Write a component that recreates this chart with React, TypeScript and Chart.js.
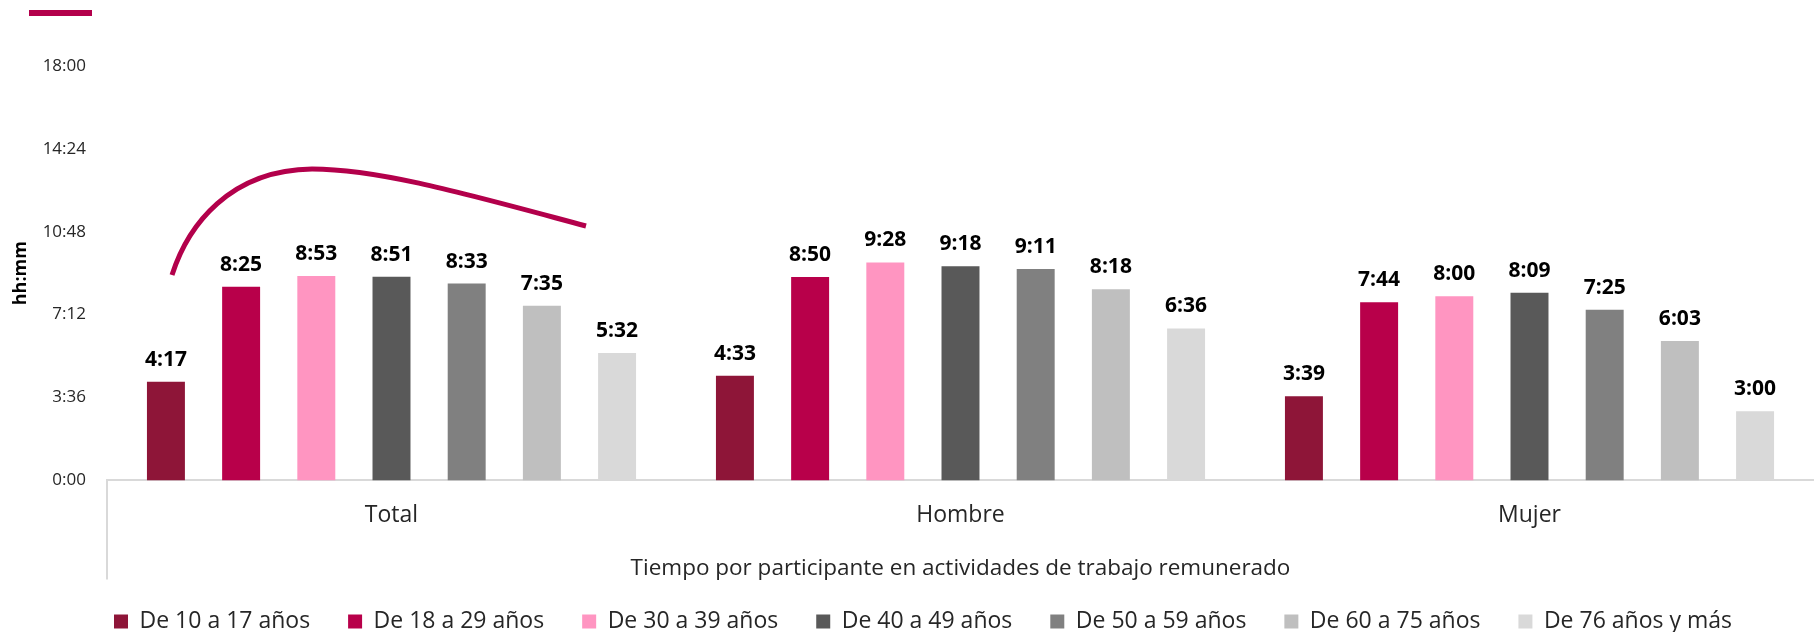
import React, { useEffect, useRef } from "react";
import { Chart, registerables } from "chart.js";

Chart.register(...registerables);

const categories = ["Total", "Hombre", "Mujer"];
const seriesNames = [
  "De 10 a 17 años",
  "De 18 a 29 años",
  "De 30 a 39 años",
  "De 40 a 49 años",
  "De 50 a 59 años",
  "De 60 a 75 años",
  "De 76 años y más",
];
// values in minutes (hh:mm)
const age10to17 = [257, 273, 219];
const age18to29 = [505, 530, 464];
const age30to39 = [533, 568, 480];
const age40to49 = [531, 558, 489];
const age50to59 = [513, 551, 445];
const age60to75 = [455, 498, 363];
const age76plus = [332, 396, 180];
const seriesColors = ["#8E1538", "#B8004A", "#FF95C1", "#595959", "#808080", "#BFBFBF", "#D9D9D9"];
const yTickMax = 1080;
const yTickStep = 216;
const yTitle = "hh:mm";
const xTitle = "Tiempo por participante en actividades de trabajo remunerado";

const FONT = "'Open Sans', 'Noto Sans', sans-serif";

const fmt = (m: number) => `${Math.floor(m / 60)}:${String(Math.round(m % 60)).padStart(2, "0")}`;

const dataLabels = {
  id: "dataLabels",
  afterDatasetsDraw(chart: any) {
    const ctx = chart.ctx;
    ctx.save();
    ctx.font = `bold 21px ${FONT}`;
    ctx.fillStyle = "#000000";
    ctx.textAlign = "center";
    ctx.textBaseline = "alphabetic";
    chart.data.datasets.forEach((ds: any, i: number) => {
      const meta = chart.getDatasetMeta(i);
      meta.data.forEach((el: any, j: number) => {
        ctx.fillText(fmt(ds.data[j]), el.x, el.y - 16);
      });
    });
    ctx.restore();
  },
};

const legendShift = {
  id: "legendShift",
  afterLayout(chart: any) {
    if (chart.legend) {
      chart.legend.left += 16;
      chart.legend.right += 16;
    }
  },
};

const decorations = {
  id: "decorations",
  afterDraw(chart: any) {
    const ctx = chart.ctx;
    const xs = chart.scales.x;
    const area = chart.chartArea;
    ctx.save();
    // category divider line at left of multi-level axis
    ctx.strokeStyle = "#D9D9D9";
    ctx.lineWidth = 2;
    ctx.beginPath();
    ctx.moveTo(xs.left, area.bottom);
    ctx.lineTo(xs.left, area.bottom + 99);
    ctx.stroke();
    // decorative crimson strokes from the source document
    ctx.strokeStyle = "#B3004B";
    ctx.lineCap = "butt";
    ctx.lineWidth = 6;
    ctx.beginPath();
    ctx.moveTo(29, 13);
    ctx.lineTo(92, 13);
    ctx.stroke();
    ctx.lineWidth = 5;
    ctx.beginPath();
    ctx.moveTo(172, 275);
    ctx.bezierCurveTo(188, 225, 230, 170, 312, 169);
    ctx.bezierCurveTo(380, 169, 470, 195, 586, 226);
    ctx.stroke();
    ctx.restore();
  },
};

export default function App() {
  const ref = useRef<HTMLCanvasElement | null>(null);
  useEffect(() => {
    if (!ref.current) return;
    const series = [age10to17, age18to29, age30to39, age40to49, age50to59, age60to75, age76plus];
    const chart = new Chart(ref.current, {
      type: "bar",
      data: {
        labels: categories,
        datasets: series.map((d, i) => ({
          label: seriesNames[i],
          data: d,
          backgroundColor: seriesColors[i],
          borderWidth: 0,
          categoryPercentage: 0.925,
          barPercentage: 0.505,
        })),
      },
      options: {
        animation: false,
        responsive: false,
        maintainAspectRatio: false,
        layout: { padding: { top: 66, left: 0, right: 0, bottom: 0 } },
        plugins: {
          tooltip: { enabled: false },
          legend: {
            position: "bottom",
            labels: {
              boxWidth: 14,
              boxHeight: 14,
              padding: 38,
              color: "#262626",
              font: { family: FONT, size: 23 },
            },
          },
        },
        scales: {
          x: {
            grid: { display: false, drawTicks: false },
            border: { display: true, color: "#D9D9D9", width: 2 },
            ticks: { padding: 21, color: "#262626", font: { family: FONT, size: 23 } },
            title: {
              display: true,
              text: xTitle,
              color: "#262626",
              font: { family: FONT, size: 22.5 },
              padding: { top: 5, bottom: -10 },
            },
          },
          y: {
            min: 0,
            max: yTickMax,
            grid: { display: false, drawTicks: false },
            border: { display: false },
            afterFit: (s: any) => {
              s.width = 107;
            },
            ticks: {
              stepSize: yTickStep,
              padding: 21,
              color: "#262626",
              font: { family: FONT, size: 17 },
              callback: (v: any) => fmt(Number(v)),
            },
            title: {
              display: true,
              text: yTitle,
              color: "#000000",
              font: { family: FONT, size: 18, weight: "bold" },
              padding: { top: 10, bottom: 0 },
            },
          },
        },
      },
      plugins: [dataLabels, legendShift, decorations],
    });
    return () => chart.destroy();
  }, []);
  return (
    <div style={{ position: "fixed", left: 0, top: 0, width: 1814, height: 632, overflow: "hidden", background: "#fff" }}>
      <canvas ref={ref} width={1814} height={643} style={{ display: "block", width: 1814, height: 643 }} />
    </div>
  );
}
